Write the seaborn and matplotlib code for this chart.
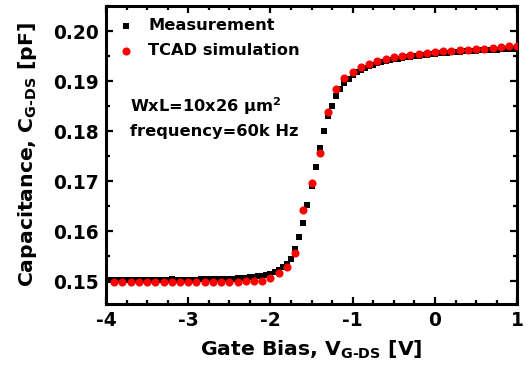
import numpy as np
import pandas as pd
import matplotlib
matplotlib.use("Agg")
import matplotlib.pyplot as plt
from matplotlib.ticker import MultipleLocator, FormatStrFormatter
import seaborn as sns

# ---- data ----
meas_v = [round(-4.0 + 0.05 * i, 2) for i in range(101)]
meas_c = [
    0.1503, 0.1503, 0.1503, 0.1503, 0.1502, 0.1503, 0.1503, 0.1503, 0.1502, 0.1503,
    0.1503, 0.1503, 0.1503, 0.1503, 0.1503, 0.1503, 0.1504, 0.1503, 0.1503, 0.1503,
    0.1503, 0.1503, 0.1503, 0.1504, 0.1504, 0.1504, 0.1504, 0.1504, 0.1504, 0.1505,
    0.1505, 0.1505, 0.1506, 0.1506, 0.1507, 0.1508, 0.1509, 0.1510, 0.1511, 0.1513,
    0.1515, 0.1518, 0.1522, 0.1528, 0.1535, 0.1545, 0.1565, 0.1589, 0.1616, 0.1652,
    0.1690, 0.1729, 0.1767, 0.1801, 0.1830, 0.1851, 0.1870, 0.1885, 0.1896, 0.1905,
    0.1912, 0.1918, 0.1923, 0.1927, 0.1930, 0.1933, 0.1936, 0.1938, 0.1940, 0.1942,
    0.1944, 0.1945, 0.1947, 0.1948, 0.1949, 0.1950, 0.1951, 0.1952, 0.1953, 0.1954,
    0.1955, 0.1956, 0.1956, 0.1957, 0.1958, 0.1958, 0.1959, 0.1960, 0.1960, 0.1961,
    0.1961, 0.1962, 0.1962, 0.1962, 0.1963, 0.1963, 0.1964, 0.1964, 0.1964, 0.1965,
    0.1965,
]

sim_v = [round(-3.9 + 0.1 * i, 1) for i in range(50)]
sim_c = [
    0.1498, 0.1498, 0.1498, 0.1498, 0.1498, 0.1498, 0.1498, 0.1498, 0.1499, 0.1499,
    0.1499, 0.1499, 0.1499, 0.1499, 0.1499, 0.1499, 0.1500, 0.1500, 0.1501, 0.1507,
    0.1517, 0.1528, 0.1556, 0.1642, 0.1697, 0.1756, 0.1839, 0.1884, 0.1907, 0.1919,
    0.1929, 0.1935, 0.1940, 0.1944, 0.1948, 0.1950, 0.1952, 0.1954, 0.1956, 0.1958,
    0.1960, 0.1961, 0.1962, 0.1963, 0.1965, 0.1965, 0.1967, 0.1969, 0.1970, 0.1971,
]

x_ticks = [-4, -3, -2, -1, 0, 1]
y_ticks = [0.15, 0.16, 0.17, 0.18, 0.19, 0.20]

meas = pd.DataFrame({"V": meas_v, "C": meas_c})
sim = pd.DataFrame({"V": sim_v, "C": sim_c})

# ---- style ----
sns.set_style("ticks")
plt.rcParams["font.family"] = ["DejaVu Sans"]
plt.rcParams["font.weight"] = "bold"
plt.rcParams["axes.labelweight"] = "bold"
plt.rcParams["axes.unicode_minus"] = False
plt.rcParams["mathtext.default"] = "bf"
for k in ["text.color", "axes.labelcolor", "xtick.color", "ytick.color", "axes.edgecolor"]:
    plt.rcParams[k] = "black"

fig = plt.figure(figsize=(5.31, 3.68), dpi=100)
ax = fig.add_axes([0.1996, 0.1739, 0.7744, 0.8098])

sns.scatterplot(data=meas, x="V", y="C", marker="s", color="black", s=18,
                linewidth=0, label="Measurement", ax=ax, zorder=2)
sns.scatterplot(data=sim, x="V", y="C", marker="o", color="#ff0000", s=34,
                linewidth=0, label="TCAD simulation", ax=ax, zorder=3)

ax.set_xlim(-4, 1)
ax.set_ylim(0.1454, 0.2051)
ax.set_xticks(x_ticks)
ax.set_yticks(y_ticks)
ax.xaxis.set_minor_locator(MultipleLocator(0.25))
ax.yaxis.set_minor_locator(MultipleLocator(0.005))
ax.yaxis.set_major_formatter(FormatStrFormatter("%.2f"))

ax.tick_params(which="both", direction="in", top=True, right=True, width=1.6, color="black")
ax.tick_params(which="major", length=5, labelsize=13.4, pad=5)
ax.tick_params(which="minor", length=3)
for lab in ax.get_xticklabels() + ax.get_yticklabels():
    lab.set_fontweight("bold")
for sp in ax.spines.values():
    sp.set_linewidth(2.2)
    sp.set_color("black")
    sp.set_visible(True)

ax.set_xlabel(r"Gate Bias, V$_{G\text{-}DS}$ [V]", fontsize=14.7, fontweight="bold", labelpad=6)
ax.set_ylabel(r"Capacitance, C$_{G\text{-}DS}$ [pF]", fontsize=14.7, fontweight="bold", labelpad=10)

ax.text(-3.71, 0.1850, r"WxL=10x26 μm$^{2}$", fontsize=11.7, fontweight="bold", va="center", ha="left")
ax.text(-3.71, 0.1800, "frequency=60k Hz", fontsize=11.7, fontweight="bold", va="center", ha="left")

leg = ax.legend(loc="upper left", frameon=False, prop={"size": 11.7, "weight": "bold"},
                handletextpad=0.85, labelspacing=0.62, borderaxespad=0.15,
                handlelength=1.0, borderpad=0.6)

fig.savefig("out.png", dpi=100)
